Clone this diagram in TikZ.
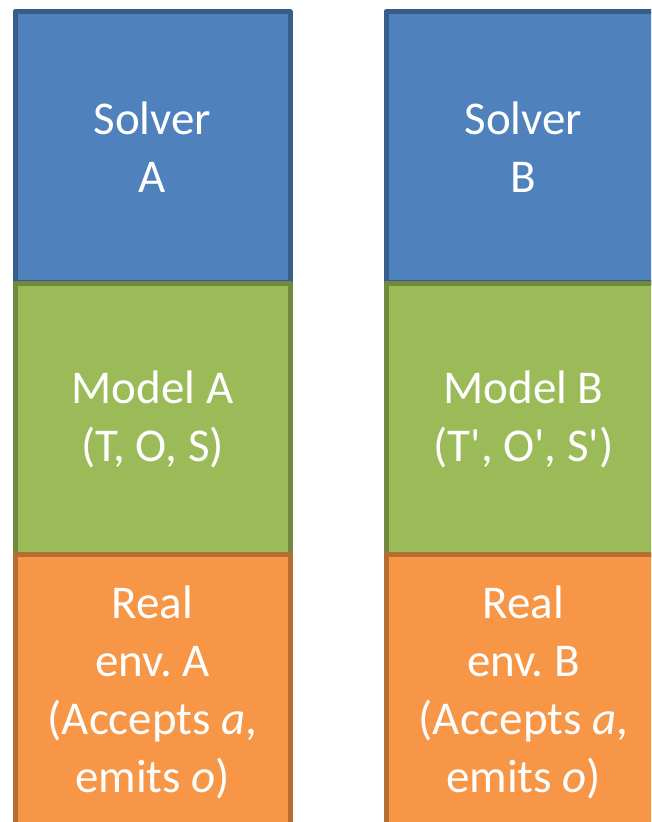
\documentclass[tikz,border=0pt]{standalone}
\usepackage{fontspec}
\setmainfont{Carlito}
\frenchspacing
\definecolor{bluefill}{HTML}{4F81BD}
\definecolor{blueline}{HTML}{385D8A}
\definecolor{greenfill}{HTML}{9BBB59}
\definecolor{greenline}{HTML}{71893F}
\definecolor{orangefill}{HTML}{F79646}
\definecolor{orangeline}{HTML}{B66D31}
\tikzset{
  x=1pt, y=-1pt,
  layer/.style={draw, line width=5pt, line join=round, minimum width=275pt, inner sep=0pt, outer sep=0pt, text=white, align=center, font=\fontsize{47}{58}\selectfont},
  solverbox/.style={layer, fill=bluefill, draw=blueline, minimum height=271pt},
  modelbox/.style={layer, fill=greenfill, draw=greenline, minimum height=272pt},
  envbox/.style={layer, fill=orangefill, draw=orangeline, minimum height=276pt},
}
\begin{document}
\begin{tikzpicture}
\useasboundingbox (0,0) rectangle (651,822);
\clip (0,0) rectangle (651,822);
\fill[white] (0,0) rectangle (651,822);
\node[solverbox] (sa) at (152.5,147) {Solver\\A};
\node[modelbox] (ma) at (152.5,419) {Model A\\(T, O, S)};
\node[envbox] (ea) at (152.5,692) {Real\\env. A\\(Accepts \textit{a},\\emits \textit{o})};
\node[solverbox] (sb) at (523.5,147) {Solver\\B};
\node[modelbox] (mb) at (523.5,419) {Model B\\(T\textquotesingle, O\textquotesingle, S\textquotesingle)};
\node[envbox] (eb) at (523.5,692) {Real\\env. B\\(Accepts \textit{a},\\emits \textit{o})};
\end{tikzpicture}
\end{document}
